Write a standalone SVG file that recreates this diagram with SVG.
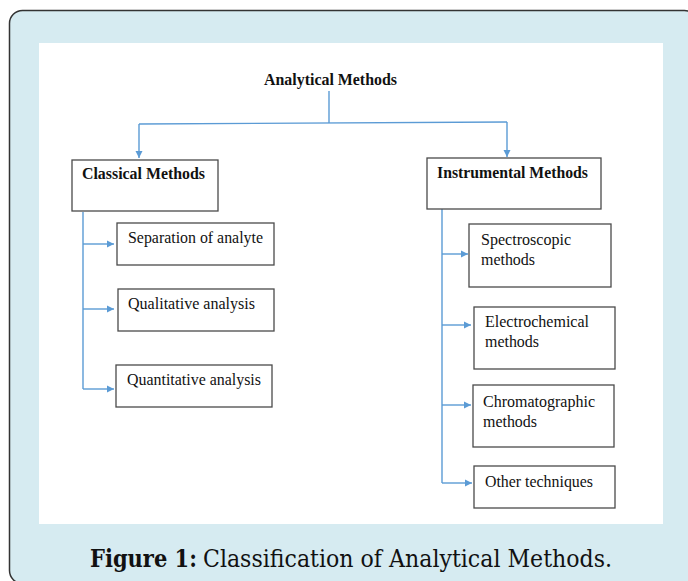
<svg xmlns="http://www.w3.org/2000/svg" width="688" height="581" viewBox="0 0 688 581">
<style>
.node rect{fill:#fff;stroke:#4a4a4a;stroke-width:1.3}
.h{font-family:"Liberation Serif","Times New Roman",serif;font-weight:bold;font-size:16px;fill:#111}
.t{font-family:"Liberation Serif","Times New Roman",serif;font-size:16px;fill:#111}
.c{fill:none;stroke:#5b9bd5;stroke-width:1.4}
.cap{font-family:"DejaVu Serif","Liberation Serif",serif;font-stretch:condensed;font-size:24px;fill:#111}
</style>
<defs>
<marker id="ah" viewBox="0 0 10 10" refX="10" refY="5" markerWidth="7.5" markerHeight="7.5" markerUnits="userSpaceOnUse" orient="auto">
<path d="M0,0 L10,5 L0,10 z" fill="#5b9bd5"/>
</marker>
</defs>
<rect x="9.5" y="10.5" width="688" height="573" rx="13" fill="#d6ebf1" stroke="#333" stroke-width="1.5"/>
<rect x="39" y="43" width="624" height="481" fill="#fff"/>
<g id="connectors">
<path class="c" d="M329,91 V123"/>
<path class="c" d="M139,124 L507,122"/>
<path class="c" d="M139,124 V158" marker-end="url(#ah)"/>
<path class="c" d="M507,122 V157" marker-end="url(#ah)"/>
<path class="c" d="M83,212 V389"/>
<path class="c" d="M83,244 H114" marker-end="url(#ah)"/>
<path class="c" d="M83,309 H114" marker-end="url(#ah)"/>
<path class="c" d="M83,389 H114" marker-end="url(#ah)"/>
<path class="c" d="M442,209 V483"/>
<path class="c" d="M442,254 H468" marker-end="url(#ah)"/>
<path class="c" d="M442,325 H471" marker-end="url(#ah)"/>
<path class="c" d="M442,405 H471" marker-end="url(#ah)"/>
<path class="c" d="M442,483 H472" marker-end="url(#ah)"/>
</g>
<g id="analytical-methods">
<text class="h" x="264" y="85" textLength="133" lengthAdjust="spacingAndGlyphs">Analytical Methods</text>
</g>
<g id="classical-methods" class="node">
<rect x="72" y="160" width="146" height="51"/>
<text class="h" x="82" y="179" textLength="123" lengthAdjust="spacingAndGlyphs">Classical Methods</text>
</g>
<g id="instrumental-methods" class="node">
<rect x="427" y="158" width="174" height="51"/>
<text class="h" x="437" y="178" textLength="151" lengthAdjust="spacingAndGlyphs">Instrumental Methods</text>
</g>
<g id="separation" class="node">
<rect x="117" y="223" width="157" height="42"/>
<text class="t" x="128" y="243" textLength="135" lengthAdjust="spacingAndGlyphs">Separation of analyte</text>
</g>
<g id="qualitative" class="node">
<rect x="118" y="289" width="156" height="42"/>
<text class="t" x="128" y="309" textLength="127" lengthAdjust="spacingAndGlyphs">Qualitative analysis</text>
</g>
<g id="quantitative" class="node">
<rect x="116" y="365" width="156" height="42"/>
<text class="t" x="127" y="385" textLength="134" lengthAdjust="spacingAndGlyphs">Quantitative analysis</text>
</g>
<g id="spectroscopic" class="node">
<rect x="469" y="224" width="142" height="63"/>
<text class="t" x="481" y="245" textLength="90" lengthAdjust="spacingAndGlyphs">Spectroscopic</text>
<text class="t" x="481" y="265" textLength="54" lengthAdjust="spacingAndGlyphs">methods</text>
</g>
<g id="electrochemical" class="node">
<rect x="474" y="307" width="141" height="62"/>
<text class="t" x="485" y="327" textLength="104" lengthAdjust="spacingAndGlyphs">Electrochemical</text>
<text class="t" x="485" y="347" textLength="54" lengthAdjust="spacingAndGlyphs">methods</text>
</g>
<g id="chromatographic" class="node">
<rect x="473" y="385" width="141" height="62"/>
<text class="t" x="483" y="407" textLength="112" lengthAdjust="spacingAndGlyphs">Chromatographic</text>
<text class="t" x="483" y="427" textLength="54" lengthAdjust="spacingAndGlyphs">methods</text>
</g>
<g id="other-techniques" class="node">
<rect x="474" y="466" width="141" height="42"/>
<text class="t" x="485" y="487" textLength="108" lengthAdjust="spacingAndGlyphs">Other techniques</text>
</g>
<g id="caption">
<text class="cap" x="90" y="567" font-weight="bold" textLength="107" lengthAdjust="spacingAndGlyphs">Figure 1:</text>
<text class="cap" x="203" y="567" textLength="409" lengthAdjust="spacingAndGlyphs">Classification of Analytical Methods.</text>
</g>
</svg>
